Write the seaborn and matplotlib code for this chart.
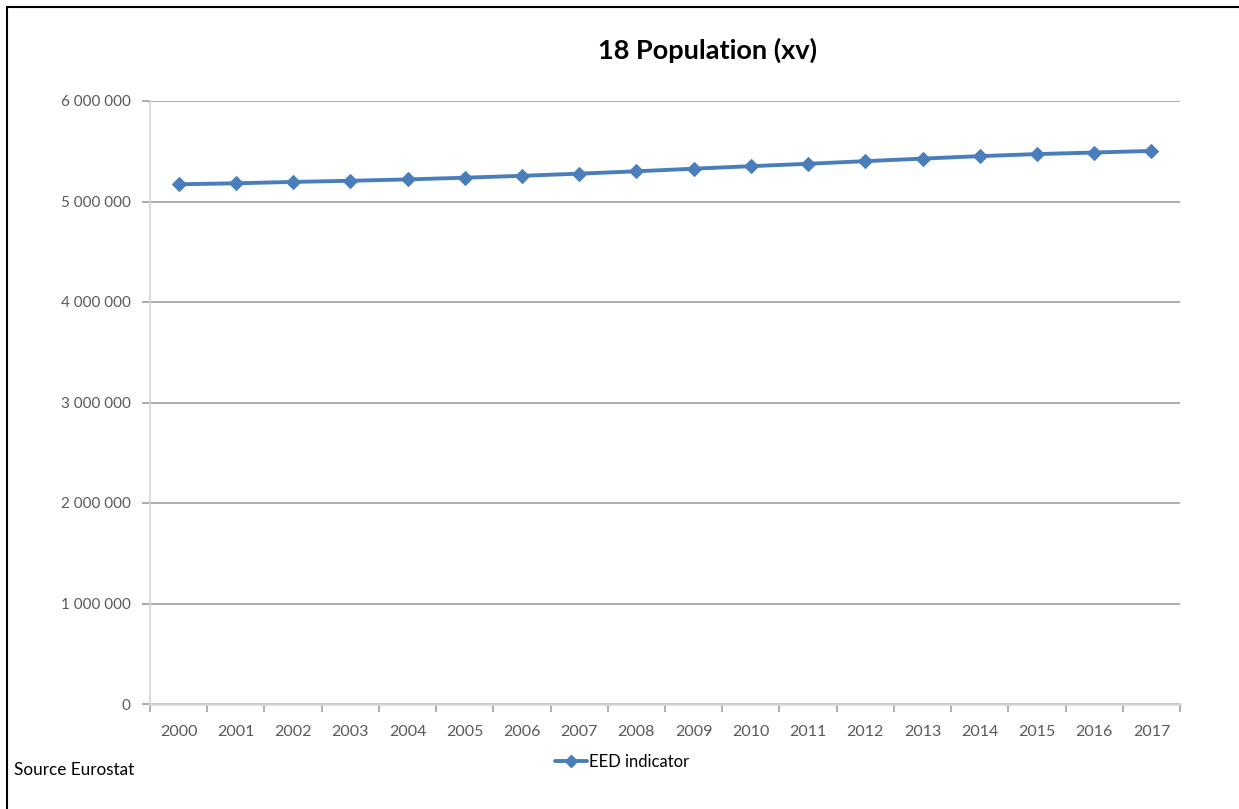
import matplotlib
matplotlib.use("Agg")
import matplotlib.pyplot as plt
from matplotlib.lines import Line2D
import seaborn as sns
import pandas as pd

years = [str(y) for y in range(2000, 2018)]
population = [5171302, 5181115, 5194901, 5206295, 5219732, 5236611, 5255580,
              5276955, 5300484, 5326314, 5351427, 5375276, 5401267, 5426674,
              5451270, 5471753, 5487308, 5503297]
series_name = "EED indicator"
y_ticks = [0, 1000000, 2000000, 3000000, 4000000, 5000000, 6000000]

sns.set_theme(style="white")
plt.rcParams["font.family"] = ["Lato", "DejaVu Sans"]

df = pd.DataFrame({"year": years, "value": population})

fig = plt.figure(figsize=(12.39, 8.09), dpi=100)
ax = fig.add_axes([150 / 1239, 1 - 704 / 809, 1030 / 1239, 603 / 809])

line_color = "#4A7EBB"
sns.lineplot(data=df, x="year", y="value", ax=ax, sort=False, color=line_color,
             linewidth=2.8, marker="D", markersize=7, markeredgecolor=line_color,
             markerfacecolor=line_color)

ax.set_xlim(-0.5, len(years) - 0.5)
ax.set_ylim(0, 6000000)
ax.set_yticks(y_ticks)
ax.set_yticklabels([f"{v:,}".replace(",", " ") for v in y_ticks])
ax.set_xticks(range(len(years)))
ax.set_xticklabels(years)
ax.set_xticks([i - 0.5 for i in range(len(years) + 1)], minor=True)
ax.set_xlabel("")
ax.set_ylabel("")

ax.grid(axis="y", color="#a0a0a0", linewidth=1.2)
ax.grid(axis="x", visible=False)
ax.set_axisbelow(True)
for side in ("top", "right"):
    ax.spines[side].set_visible(False)
ax.spines["left"].set_color("#d4d4d4")
ax.spines["bottom"].set_color("#d4d4d4")
ax.spines["left"].set_linewidth(1.2)
ax.spines["bottom"].set_linewidth(1.8)

ax.tick_params(axis="y", which="major", left=True, length=6, color="#a0a0a0",
               labelsize=11, labelcolor="#595959", pad=8)
ax.tick_params(axis="x", which="major", bottom=False, labelsize=11.5,
               labelcolor="#595959", pad=9)
ax.tick_params(axis="x", which="minor", bottom=True, length=6, color="#a0a0a0",
               width=1.2)

fig.text(707 / 1239, 1 - 50 / 809, "18 Population (xv)", ha="center", va="center",
         fontsize=19.5, fontweight="bold", color="black")
fig.text(14 / 1239, 1 - 770 / 809, "Source Eurostat", ha="left", va="center",
         fontsize=12.3, color="black")

handle = Line2D([], [], color=line_color, linewidth=2.8, marker="D",
                markersize=6, markerfacecolor=line_color,
                markeredgecolor=line_color)
fig.legend([handle], [series_name], loc="center", bbox_to_anchor=(622 / 1239, 1 - 762 / 809),
           frameon=False, fontsize=12, handlelength=1.9, handletextpad=0.15,
           labelcolor="black")

# page frame: top and left rules
fig.add_artist(Line2D([7 / 1239, 1], [1 - 7 / 809, 1 - 7 / 809], color="black",
                      linewidth=1.5, transform=fig.transFigure))
fig.add_artist(Line2D([7 / 1239, 7 / 1239], [0, 1 - 7 / 809], color="black",
                      linewidth=1.5, transform=fig.transFigure))

fig.savefig("out.png", dpi=100, facecolor="white")
